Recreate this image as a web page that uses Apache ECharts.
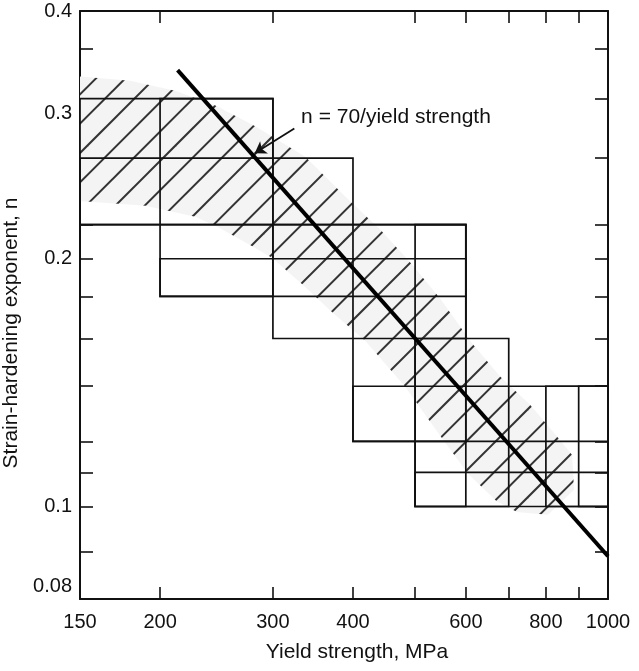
<!DOCTYPE html>
<html><head><meta charset="utf-8">
<script src="https://cdn.jsdelivr.net/npm/echarts@6/dist/echarts.min.js"></script>
<style>html,body{margin:0;padding:0;background:#fff}#c{width:639px;height:671px}</style>
</head><body><div id="c"></div>
<script>
// ---- axes ----
const xMin = 150, xMax = 1000;
const yMin = 0.0772, yMax = 0.4;
const xLabelValues = [150, 200, 300, 400, 600, 800, 1000];
const xTickBottom = [200, 300, 400, 500, 600, 700, 800, 900];
const xTickTop = [200, 300, 500, 600, 700, 800, 900];
const yLabelValues = [0.08, 0.1, 0.2, 0.3, 0.4];
const yTickValues = [0.088, 0.1, 0.11, 0.12, 0.14, 0.16, 0.18, 0.2, 0.22, 0.265, 0.313, 0.36];

// ---- boxes: yield-strength range (MPa) and n range ----
const boxX1 = [150, 200, 150, 200, 300, 400, 400, 500, 500, 500, 800, 900];
const boxX2 = [300, 300, 400, 600, 600, 600, 1000, 600, 700, 1000, 1000, 1000];
const boxN1 = [0.22, 0.18, 0.22, 0.18, 0.16, 0.12, 0.12, 0.10, 0.10, 0.10, 0.10, 0.10];
const boxN2 = [0.313, 0.313, 0.265, 0.20, 0.22, 0.22, 0.14, 0.22, 0.16, 0.11, 0.14, 0.14];

// ---- hatched scatter band outline ----
const bandX = [150, 179.5, 211, 244, 281, 337, 389, 441, 491, 547, 613, 678, 755, 830, 879, 885, 806, 721, 669, 605, 553, 505, 482, 418, 372, 334, 299, 279, 245, 227, 190, 150];
const bandN = [0.333, 0.329, 0.320, 0.307, 0.290, 0.266, 0.238, 0.217, 0.198, 0.179, 0.158, 0.144, 0.133, 0.122, 0.1155, 0.1048, 0.0977, 0.0985, 0.1016, 0.1096, 0.1205, 0.133, 0.140, 0.159, 0.172, 0.186, 0.2005, 0.207, 0.219, 0.225, 0.232, 0.235];

// ---- line n = 70/yield strength (as drawn) ----
const lineX = [213, 1000];
const lineN = [0.339, 0.087];

// ---- annotation ----
const noteText = 'n = 70/yield strength';
const noteAnchor = [332, 0.297];
const arrowFrom = [324, 0.288];
const arrowTo = [281, 0.2687];

const FONT = '"Liberation Sans", Arial, Helvetica, sans-serif';
const TXT = '#111';

function makeHatch() {
  const T = 88, sp = T / 3, c0 = 27.7;
  const cv = document.createElement('canvas');
  cv.width = T; cv.height = T;
  const ctx = cv.getContext('2d');
  ctx.fillStyle = '#f4f4f4';
  ctx.fillRect(0, 0, T, T);
  ctx.strokeStyle = '#333';
  ctx.lineWidth = 2;
  for (let k = -2; k <= 8; k++) {
    const c = c0 + k * sp;
    // line x + y = c : runs from lower-left to upper-right
    ctx.beginPath();
    ctx.moveTo(-10, c + 10);
    ctx.lineTo(T + 10, c - T - 10);
    ctx.stroke();
  }
  return cv;
}
const hatch = makeHatch();

const chart = echarts.init(document.getElementById('c'), null, {renderer: 'canvas'});

const axisLineStyle = {show: true, lineStyle: {color: '#111', width: 2}};
const tickStyle = {color: '#111', width: 1.6};

chart.setOption({
  animation: false,
  backgroundColor: '#fff',
  grid: {left: 80, right: 31, top: 11, bottom: 72, containLabel: false, outerBoundsMode: 'none'},
  xAxis: [
    {
      type: 'log', position: 'bottom', min: xMin, max: xMax, logBase: 10,
      axisLine: axisLineStyle,
      axisTick: {show: true, inside: true, length: 12, lineStyle: tickStyle, customValues: xTickBottom},
      axisLabel: {show: true, customValues: xLabelValues, fontSize: 20, color: TXT, fontFamily: FONT, margin: 13,
        formatter: v => String(v)},
      splitLine: {show: false}, minorTick: {show: false},
      name: 'Yield strength, MPa', nameLocation: 'middle', nameGap: 43,
      nameTextStyle: {fontSize: 21, color: TXT, fontFamily: FONT, padding: [0, 0, 0, 26]}
    },
    {
      type: 'log', position: 'top', min: xMin, max: xMax, logBase: 10,
      axisLine: axisLineStyle,
      axisTick: {show: true, inside: true, length: 12, lineStyle: tickStyle, customValues: xTickTop},
      axisLabel: {show: false}, splitLine: {show: false}
    }
  ],
  yAxis: [
    {
      type: 'log', position: 'left', min: yMin, max: yMax, logBase: 10,
      axisLine: axisLineStyle,
      axisTick: {show: true, inside: true, length: 13, lineStyle: tickStyle, customValues: yTickValues},
      axisLabel: {show: true, customValues: yLabelValues, fontSize: 20, color: TXT, fontFamily: FONT, margin: 8,
        formatter: v => String(v)},
      splitLine: {show: false}, minorTick: {show: false},
      name: 'Strain-hardening exponent, n', nameLocation: 'middle', nameGap: 46,
      nameTextStyle: {fontSize: 21, color: TXT, fontFamily: FONT, padding: [0, 56, 0, 0]}
    },
    {
      type: 'log', position: 'right', min: yMin, max: yMax, logBase: 10,
      axisLine: axisLineStyle,
      axisTick: {show: true, inside: true, length: 13, lineStyle: tickStyle, customValues: yTickValues},
      axisLabel: {show: false}, splitLine: {show: false}
    }
  ],
  series: [
    {
      type: 'custom', name: 'band', xAxisIndex: 0, yAxisIndex: 0, silent: true, z: 1,
      data: [[bandX[0], bandN[0]]],
      renderItem: function (params, api) {
        const pts = bandX.map((x, i) => api.coord([x, bandN[i]]));
        return {type: 'polygon', shape: {points: pts},
          style: {fill: {image: hatch, repeat: 'repeat'}, stroke: null}};
      }
    },
    {
      type: 'custom', name: 'boxes', xAxisIndex: 0, yAxisIndex: 0, silent: true, z: 3,
      data: boxX1.map((x, i) => [x, boxX2[i], boxN1[i], boxN2[i]]),
      encode: {x: [0, 1], y: [2, 3]},
      renderItem: function (params, api) {
        const p1 = api.coord([api.value(0), api.value(3)]);
        const p2 = api.coord([api.value(1), api.value(2)]);
        return {type: 'rect',
          shape: {x: p1[0], y: p1[1], width: p2[0] - p1[0], height: p2[1] - p1[1]},
          style: {fill: 'none', stroke: '#111', lineWidth: 1.7}};
      }
    },
    {
      type: 'line', name: 'n = 70/yield strength', xAxisIndex: 0, yAxisIndex: 0, z: 5,
      data: lineX.map((x, i) => [x, lineN[i]]),
      symbol: 'none', lineStyle: {color: '#000', width: 4}, silent: true
    },
    {
      type: 'lines', coordinateSystem: 'cartesian2d', xAxisIndex: 0, yAxisIndex: 0, z: 6,
      data: [{coords: [arrowFrom, arrowTo]}],
      symbol: ['none', 'arrow'], symbolSize: 11,
      lineStyle: {color: '#111', width: 1.8, opacity: 1}, silent: true
    },
    {
      type: 'custom', name: 'note', xAxisIndex: 0, yAxisIndex: 0, z: 7, silent: true,
      data: [noteAnchor],
      renderItem: function (params, api) {
        const p = api.coord([api.value(0), api.value(1)]);
        return {type: 'text', x: p[0], y: p[1],
          style: {text: noteText, fill: TXT, fontSize: 21, fontFamily: FONT,
            align: 'left', verticalAlign: 'middle'}};
      }
    }
  ]
});
</script>
</body></html>
